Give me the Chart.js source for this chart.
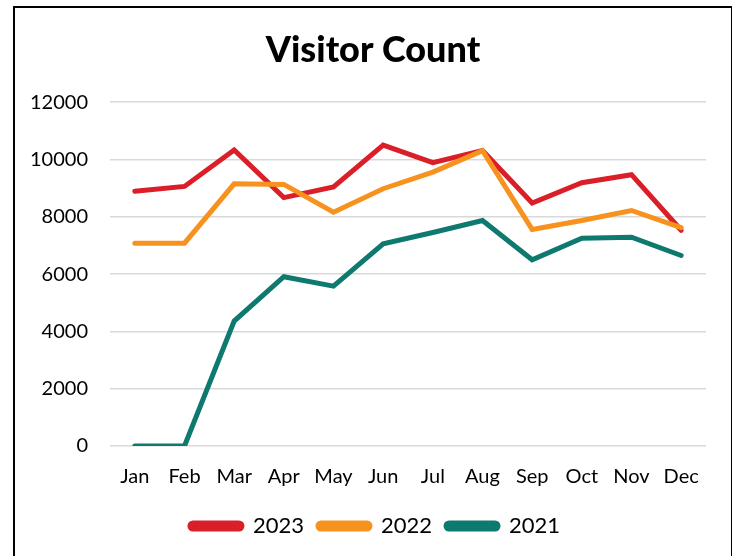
<!DOCTYPE html>
<html>
<head>
<meta charset="utf-8">
<script src="https://cdn.jsdelivr.net/npm/chart.js@4"></script>
<style>
  html, body { margin: 0; padding: 0; background: #fff; }
  #wrap { position: absolute; left: 0; top: 0; width: 732px; height: 556px; }
  #frame { position: absolute; left: 13px; top: 6px; width: 716px; height: 560px; border: 2px solid #000; pointer-events: none; }
</style>
</head>
<body>
<div id="wrap"><canvas id="c" width="732" height="556"></canvas></div>
<div id="frame"></div>
<script>
const months = ["Jan","Feb","Mar","Apr","May","Jun","Jul","Aug","Sep","Oct","Nov","Dec"];
const visitors2023 = [8890, 9060, 10330, 8670, 9040, 10500, 9890, 10310, 8480, 9190, 9470, 7530];
const visitors2022 = [7080, 7080, 9150, 9130, 8160, 8980, 9560, 10310, 7560, 7870, 8220, 7620];
const visitors2021 = [0, 0, 4360, 5910, 5580, 7060, 7450, 7870, 6500, 7250, 7290, 6650];
const yTicks = [0, 2000, 4000, 6000, 8000, 10000, 12000];

const FONT = "Lato, 'Open Sans', sans-serif";
const LEGEND_FIT_CUT = 10;
const LEGEND_DRAW_SHIFT_Y = 7;
const LEGEND_DRAW_SHIFT_X = 10;
const TITLE_SHIFT_X = 8;

const layoutFix = {
  id: 'layoutFix',
  beforeInit(chart) {
    const lg = chart.legend;
    if (lg) {
      const origFit = lg.fit.bind(lg);
      lg.fit = function () { origFit(); this.height -= LEGEND_FIT_CUT; };
      const origDraw = lg.draw.bind(lg);
      lg.draw = function () {
        const ctx = chart.ctx;
        ctx.save();
        ctx.translate(LEGEND_DRAW_SHIFT_X, -LEGEND_DRAW_SHIFT_Y);
        origDraw();
        ctx.restore();
      };
    }
    const tb = chart.titleBlock;
    if (tb) {
      const origTDraw = tb.draw.bind(tb);
      tb.draw = function () {
        const ctx = chart.ctx;
        ctx.save();
        ctx.translate(TITLE_SHIFT_X, 0);
        origTDraw();
        ctx.restore();
      };
    }
  }
};

new Chart(document.getElementById('c'), {
  type: 'line',
  data: {
    labels: months,
    datasets: [
      { label: '2023', data: visitors2023, borderColor: '#DA1F28', backgroundColor: '#DA1F28', order: 2 },
      { label: '2022', data: visitors2022, borderColor: '#F7921E', backgroundColor: '#F7921E', order: 1 },
      { label: '2021', data: visitors2021, borderColor: '#0E7A6F', backgroundColor: '#0E7A6F', order: 0 }
    ]
  },
  plugins: [layoutFix],
  options: {
    responsive: false,
    animation: false,
    devicePixelRatio: 1,
    elements: {
      line: { borderWidth: 5, tension: 0, borderCapStyle: 'round', borderJoinStyle: 'miter' },
      point: { radius: 0, hoverRadius: 0 }
    },
    layout: { padding: { left: 24, right: 26, top: 0, bottom: 12 } },
    plugins: {
      title: {
        display: true,
        text: 'Visitor Count',
        color: '#000',
        font: { family: FONT, size: 36, weight: '900' },
        padding: { top: 29, bottom: 30 }
      },
      legend: {
        position: 'bottom',
        labels: {
          color: '#000',
          font: { family: FONT, size: 22 },
          boxWidth: 52,
          boxHeight: 6,
          useBorderRadius: true,
          borderRadius: 3,
          padding: 14,
          sort: (a, b) => a.datasetIndex - b.datasetIndex
        }
      },
      tooltip: { enabled: false }
    },
    scales: {
      x: {
        offset: true,
        grid: { display: false, drawTicks: false },
        border: { display: false },
        ticks: { color: '#000', font: { family: FONT, size: 20 }, padding: 19, maxRotation: 0 }
      },
      y: {
        min: 0,
        max: 12000,
        afterBuildTicks: (axis) => { axis.ticks = yTicks.map(v => ({ value: v })); },
        afterFit: (axis) => { axis.width = 86; },
        grid: { color: '#D9D9D9', lineWidth: 1.5, drawTicks: false },
        border: { display: false },
        ticks: { color: '#000', font: { family: FONT, size: 20 }, padding: 22, callback: (v) => String(v) }
      }
    }
  }
});
</script>
</body>
</html>
